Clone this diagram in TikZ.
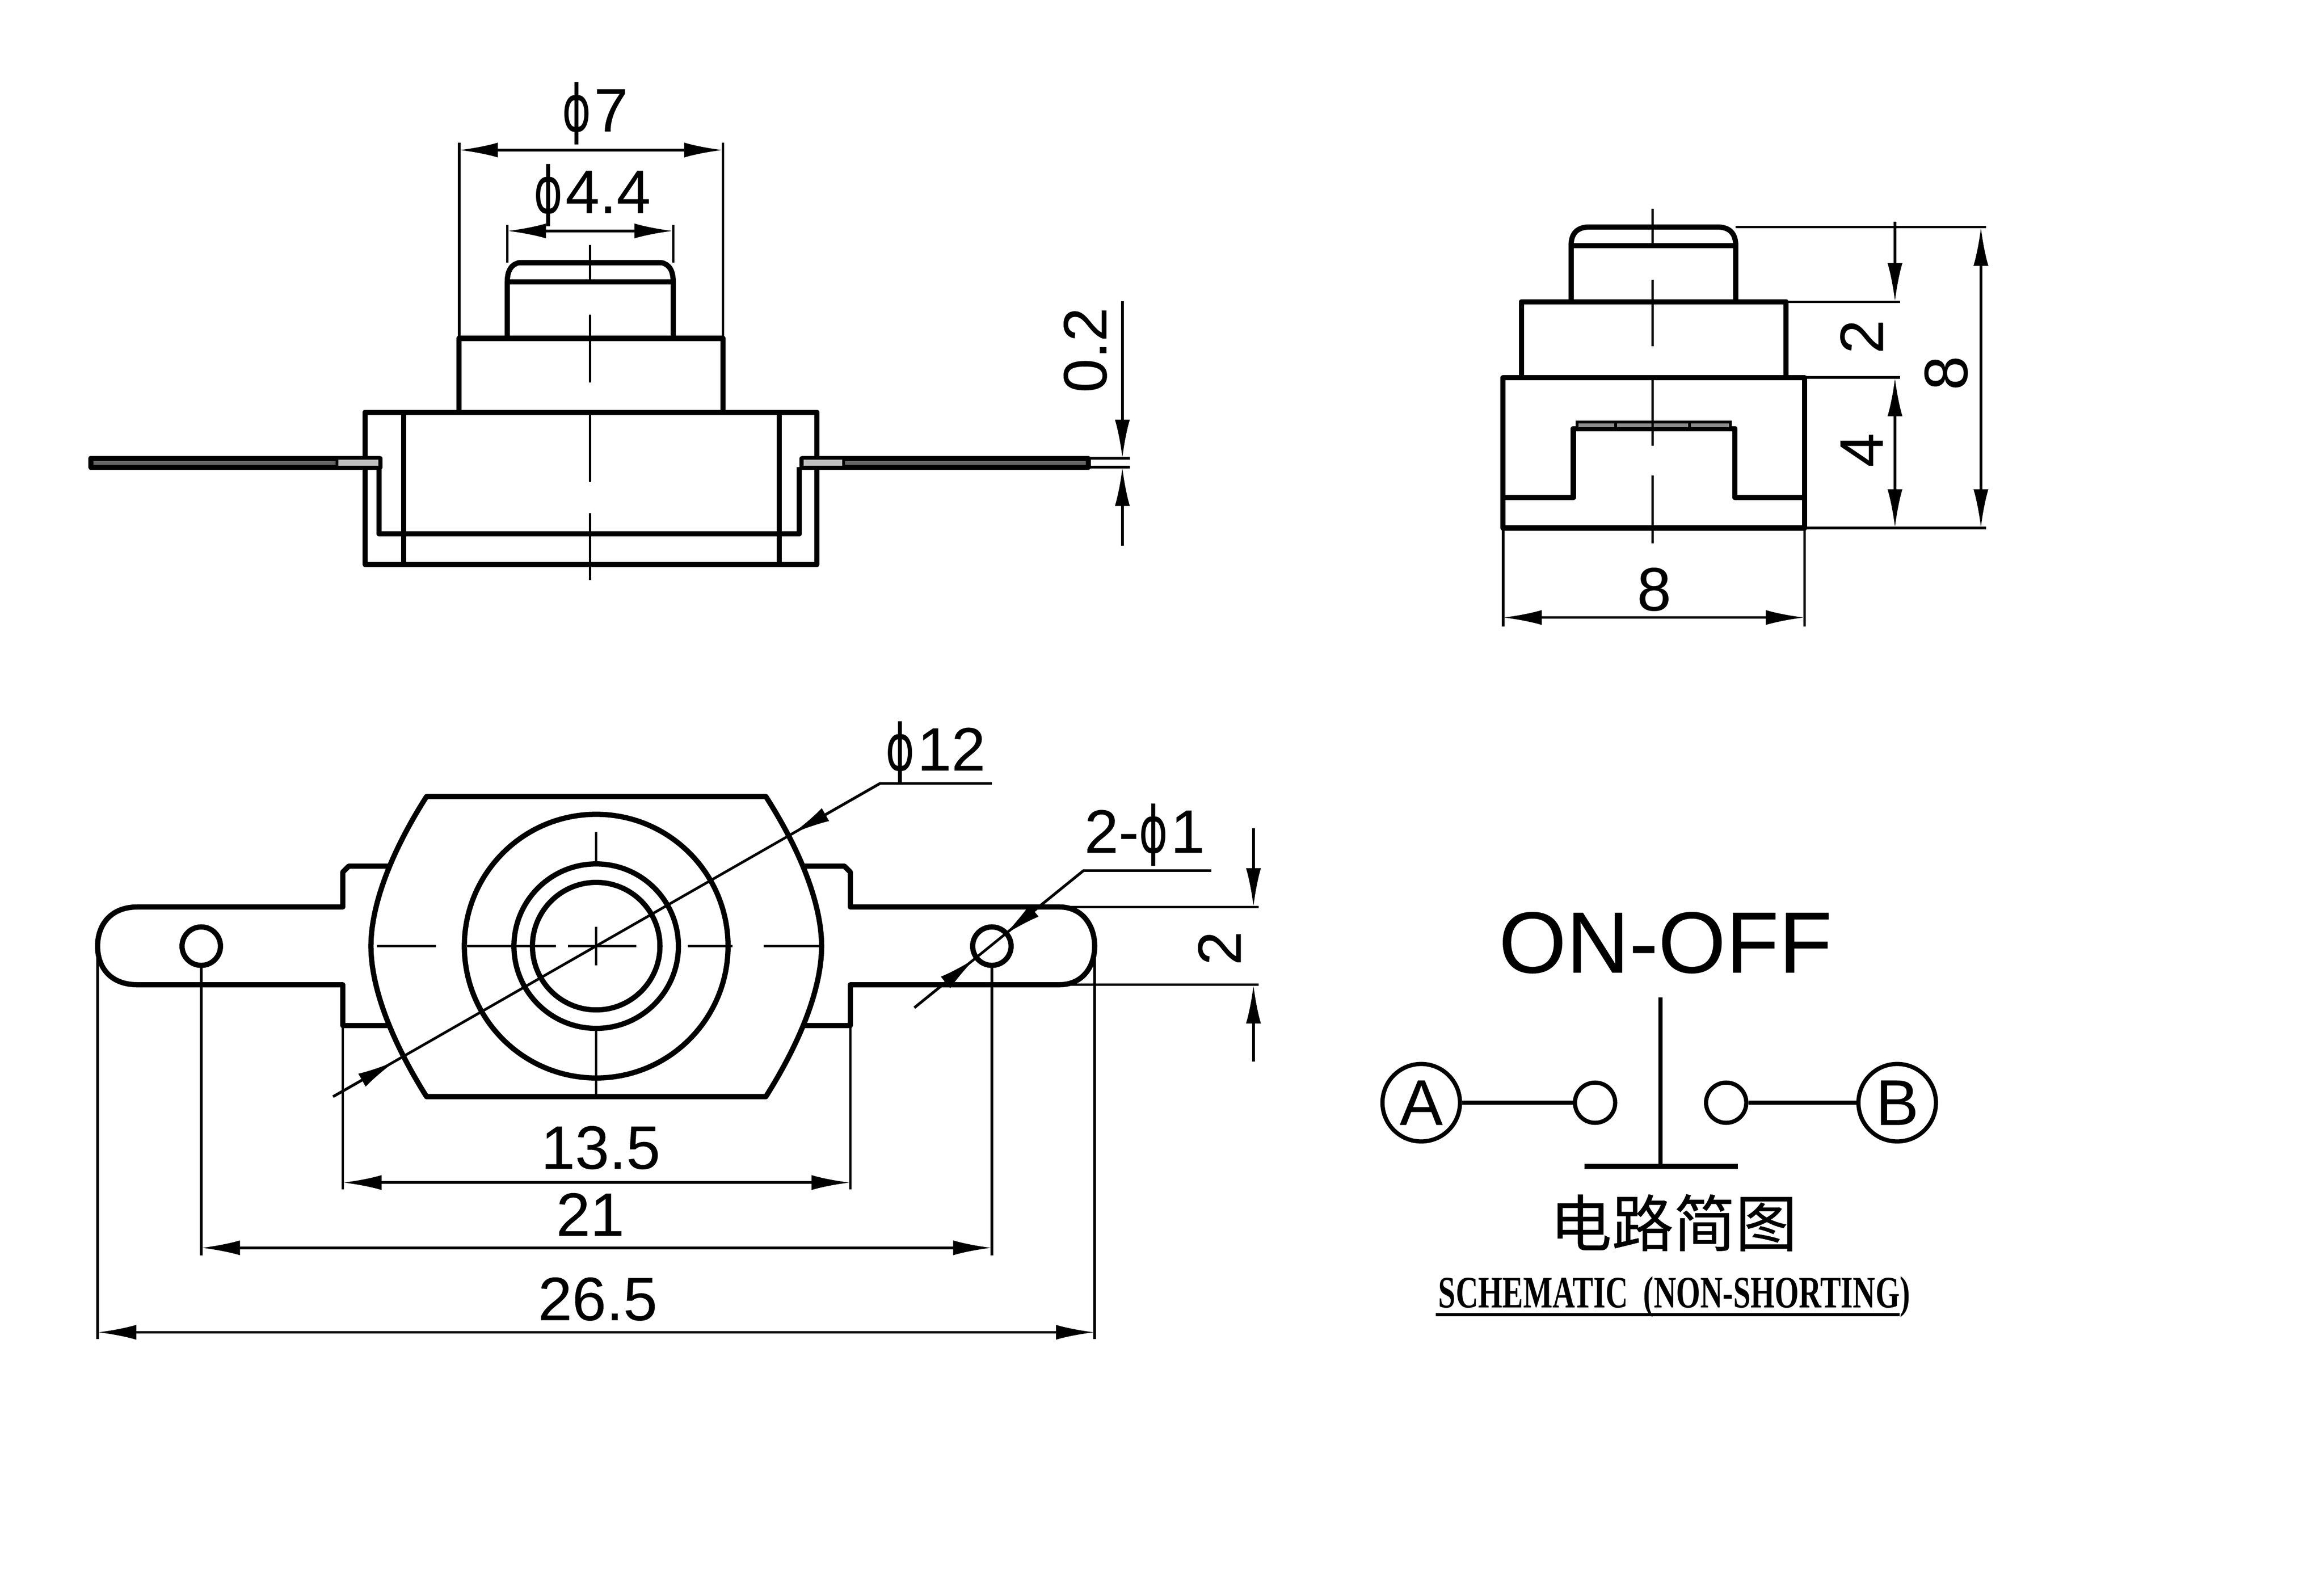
\documentclass[tikz,border=0pt]{standalone}
\usepackage{fontspec}
\usepackage{tikz}
\usetikzlibrary{arrows.meta}
\setmainfont[FakeBold = .12]{Liberation Sans}
\newfontfamily\dejavu{DejaVu Sans}
\newfontfamily\cjkfont[FakeBold = .35]{Noto Sans CJK SC}
\newfontfamily\serifcond{Liberation Serif}
\newcommand{\dia}{\scalebox{.72}[1.05]{\dejavu ϕ}\hspace{.5pt}}
\tikzset{
    outline/.style = {line width = 1pt, line join = round},
    thinline/.style = {line width = .5pt},
    centerline/.style = {line width = .45pt},
    dimline/.style = {thinline, <->},
    dimtext/.style = {inner sep = 0pt, font = \fontsize{11.7}{13}\selectfont},
    >={Latex[length = 2.6mm, width = 1mm]}
}

\begin{document}
\begin{tikzpicture}[x = .01cm, y = -.01cm]
        \useasboundingbox[fill = white] (0, 0) rectangle (1560, 1063.2);

        % front view
        \draw[outline] (340.5, 227.1) -- (340.5, 189.3) .. controls (340.5, 181.3) and (343.5, 177.3) .. (348.5, 176.3)
            -- (444, 176.3) .. controls (449, 177.3) and (451.9, 181.3) .. (451.9, 189.3) -- (451.9, 227.1);
        \draw[outline] (340.5, 189.3) -- (451.9, 189.3);
        \draw[outline] (308.2, 276.8) -- (308.2, 227.1) -- (485.3, 227.1) -- (485.3, 276.8);
        \draw[outline] (245, 276.8) rectangle (548.4, 378.8);
        \draw[outline] (270.9, 276.8) -- (270.9, 378.8);
        \draw[outline] (523, 276.8) -- (523, 378.8);
        \draw[outline] (254.4, 313.6) -- (254.4, 358.4) -- (536.5, 358.4) -- (536.5, 313.6);
        \draw[outline, fill = black!60] (60.9, 307.7) rectangle (254.9, 313.6);
        \draw[outline, fill = black!60] (538.5, 307.7) rectangle (730.5, 313.6);
        \draw[thinline, fill = black!25] (226.1, 307.7) rectangle (254.9, 313.6);
        \draw[thinline, fill = black!25] (538.5, 307.7) rectangle (566.3, 313.6);

        \draw[centerline] (396.2, 164.4) -- (396.2, 188.4);
        \draw[centerline] (396.2, 211.2) -- (396.2, 256.9);
        \draw[centerline] (396.2, 276.8) -- (396.2, 323.6);
        \draw[centerline] (396.2, 344.5) -- (396.2, 389.2);

        \draw[thinline] (308.2, 227.1) -- (308.2, 95.7);
        \draw[thinline] (485.3, 227.1) -- (485.3, 95.7);
        \draw[dimline] (308.2, 100.7) -- (485.3, 100.7);
        \draw[thinline] (340.5, 176.3) -- (340.5, 151);
        \draw[thinline] (451.9, 176.3) -- (451.9, 151);
        \draw[dimline] (340.5, 155) -- (451.9, 155);
        \node[dimtext] (dia7) at (399.5, 76.3) {\dia 7};
        \node[dimtext] (dia44) at (397.5, 131.1) {\dia 4.4};

        \draw[thinline] (730.5, 307.7) -- (758.4, 307.7);
        \draw[thinline] (730.5, 313.6) -- (758.4, 313.6);
        \draw[thinline, ->] (753.4, 202.2) -- (753.4, 307.7);
        \draw[thinline, ->] (753.4, 366.4) -- (753.4, 313.6);
        \node[dimtext, rotate = 90] (wire02) at (728.5, 235) {0.2};

        % side view
        \draw[outline] (1054.6, 202.6) -- (1054.6, 164.8) .. controls (1054.6, 157.9) and (1057.6, 152.9) .. (1065.6, 152.4)
            -- (1154.1, 152.4) .. controls (1162.1, 152.9) and (1165.1, 157.9) .. (1165.1, 164.8) -- (1165.1, 202.6);
        \draw[outline] (1054.6, 164.8) -- (1165.1, 164.8);
        \draw[outline] (1021.3, 253.4) -- (1021.3, 202.6) -- (1198.9, 202.6) -- (1198.9, 253.4);
        \draw[outline] (1008.9, 253.4) rectangle (1211.3, 354.4);
        \draw[outline] (1008.9, 334) -- (1056.1, 334) -- (1056.1, 287.7) -- (1164.6, 287.7)
            -- (1164.6, 334) -- (1211.3, 334);
        \draw[thinline, fill = black!45] (1058.6, 283.2) rectangle (1161.6, 287.7);
        \draw[thinline] (1084.5, 283.2) -- (1084.5, 287.7);
        \draw[thinline] (1134.2, 283.2) -- (1134.2, 287.7);

        \draw[centerline] (1109.3, 140) -- (1109.3, 164.8);
        \draw[centerline] (1109.3, 187.7) -- (1109.3, 232.5);
        \draw[centerline] (1109.3, 254.4) -- (1109.3, 299.1);
        \draw[centerline] (1109.3, 319) -- (1109.3, 364.8);

        \draw[thinline] (1165.1, 152.4) -- (1333.2, 152.4);
        \draw[thinline] (1198.9, 202.6) -- (1275.5, 202.6);
        \draw[thinline] (1211.3, 253.4) -- (1275.5, 253.4);
        \draw[thinline] (1211.3, 354.4) -- (1333.2, 354.4);
        \draw[thinline, ->] (1272, 148.9) -- (1272, 202.6);
        \draw[dimline] (1272, 253.4) -- (1272, 354.4);
        \draw[dimline] (1329.7, 152.4) -- (1329.7, 354.4);
        \node[dimtext, rotate = 90] (side2) at (1249.6, 226) {2};
        \node[dimtext, rotate = 90] (side4) at (1249.6, 302.1) {4};
        \node[dimtext, rotate = 90] (side8) at (1306.3, 250.4) {8};

        \draw[thinline] (1008.9, 354.4) -- (1008.9, 420.5);
        \draw[thinline] (1211.3, 354.4) -- (1211.3, 420.5);
        \draw[dimline] (1008.9, 414.5) -- (1211.3, 414.5);
        \node[dimtext] (width8) at (1110.3, 395.6) {8};

        % plan view
        \draw[outline] (264, 581.4) -- (234.1, 581.4) -- (230.1, 585.4) -- (230.1, 608.8) -- (92.3, 608.8)
            .. controls (73.9, 608.8) and (65.5, 621.2) .. (65.5, 635.1)
            .. controls (65.5, 649.1) and (73.9, 661) .. (92.3, 661)
            -- (230.1, 661) -- (230.1, 688.4) -- (264, 688.4);
        \draw[outline] (537.5, 581.4) -- (566.8, 581.4) -- (570.8, 585.4) -- (570.8, 608.8) -- (711.1, 608.8)
            .. controls (726.5, 608.8) and (734.8, 621.2) .. (734.8, 635.1)
            .. controls (734.8, 649.1) and (726.5, 661) .. (711.1, 661)
            -- (570.8, 661) -- (570.8, 688.4) -- (537.5, 688.4);
        \draw[outline, fill = white] (286.3, 534.7) -- (514.1, 534.7)
            .. controls (539.5, 574.4) and (551.5, 609.3) .. (551.5, 635.1)
            .. controls (551.5, 661) and (539.5, 695.8) .. (514.1, 736.1)
            -- (286.3, 736.1)
            .. controls (261, 695.8) and (249, 661) .. (249, 635.1)
            .. controls (249, 609.3) and (261, 574.4) .. (286.3, 534.7) -- cycle;
        \draw[outline] (400.2, 635.1) circle[radius = 88.5];
        \draw[outline] (400.2, 635.1) circle[radius = 55.2];
        \draw[outline] (400.2, 635.1) circle[radius = 42.8];
        \draw[outline] (135.1, 635.1) circle[radius = 12.9];
        \draw[outline] (665.8, 635.1) circle[radius = 12.9];

        \draw[centerline] (252.9, 635.1) -- (292.7, 635.1);
        \draw[centerline] (313.6, 635.1) -- (373.3, 635.1);
        \draw[centerline] (381.3, 635.1) -- (427, 635.1);
        \draw[centerline] (461.9, 635.1) -- (491.7, 635.1);
        \draw[centerline] (512.6, 635.1) -- (550.4, 635.1);
        \draw[centerline] (400.2, 558.5) -- (400.2, 579.4);
        \draw[centerline] (400.2, 622.2) -- (400.2, 648.1);
        \draw[centerline] (400.2, 689.9) -- (400.2, 735.6);

        \draw[thinline] (223.6, 736.1) -- (590.7, 525.9) -- (665.8, 525.9);
        \draw[thinline, ->] (590.7, 525.9) -- (531.5, 559.7);
        \draw[thinline, ->] (223.6, 736.1) -- (265.6, 712.2);
        \node[dimtext] (dia12) at (628, 505.3) {\dia 12};

        \draw[thinline] (613.8, 676.4) -- (727.3, 584.4) -- (813.1, 584.4);
        \draw[thinline, ->] (727.3, 584.4) -- (673.8, 627.8);
        \draw[thinline, ->] (613.8, 676.4) -- (654.9, 643.1);
        \node[dimtext] (holes) at (768.3, 560.5) {2-\dia 1};

        \draw[thinline] (230.1, 688.4) -- (230.1, 798.3);
        \draw[thinline] (570.8, 688.4) -- (570.8, 798.3);
        \draw[dimline] (230.1, 793.8) -- (570.8, 793.8);
        \node[dimtext] (len135) at (403.2, 770.4) {13.5};

        \draw[thinline] (135.1, 648.1) -- (135.1, 842.6);
        \draw[thinline] (665.8, 648.1) -- (665.8, 842.6);
        \draw[dimline] (135.1, 837.6) -- (665.8, 837.6);
        \node[dimtext] (len21) at (396.2, 815.2) {21};

        \draw[thinline] (65.5, 635.1) -- (65.5, 898.8);
        \draw[thinline] (734.8, 635.1) -- (734.8, 898.8);
        \draw[dimline] (65.5, 894.3) -- (734.8, 894.3);
        \node[dimtext] (len265) at (401.2, 872) {26.5};

        \draw[thinline] (711.6, 608.8) -- (844.9, 608.8);
        \draw[thinline] (711.6, 661) -- (844.9, 661);
        \draw[thinline, ->] (841.4, 556) -- (841.4, 608.8);
        \draw[thinline, ->] (841.4, 712.7) -- (841.4, 661);
        \node[dimtext, rotate = 90] (lug2) at (818.5, 636.5) {2};

        % schematic
        \node[circle, draw, line width = .8pt, minimum size = .52cm, inner sep = 0pt,
            font = \fontsize{12.3}{13}\selectfont] (termA) at (954, 740.2) {A};
        \node[circle, draw, line width = .8pt, minimum size = .52cm, inner sep = 0pt,
            font = \fontsize{12.3}{13}\selectfont] (termB) at (1273.5, 740.2) {B};
        \node[circle, draw, line width = .8pt, minimum size = .27cm, inner sep = 0pt] (contA) at (1070.7, 740.2) {};
        \node[circle, draw, line width = .8pt, minimum size = .27cm, inner sep = 0pt] (contB) at (1158.7, 740.2) {};
        \draw[line width = .8pt] (termA) -- (contA);
        \draw[line width = .8pt] (contB) -- (termB);
        \coordinate (stemTop) at (1114.6, 669.6);
        \coordinate (stemFoot) at (1114.6, 783);
        \coordinate (barLeft) at (1063.7, 783);
        \coordinate (barRight) at (1166.6, 783);
        \draw[line width = .8pt] (stemTop) -- (stemFoot);
        \draw[line width = 1pt] (barLeft) -- (barRight);

        \node[inner sep = 0pt, font = \fontsize{16.6}{18}\selectfont] (onoff) at (1117.9, 632.8) {ON-OFF};
        \node[inner sep = 0pt, font = \fontsize{11.8}{13}\cjkfont] (cntitle) at (1123.4, 820.8) {电路简图};
        \node[inner sep = 0pt, xscale = .69, font = \fontsize{8.6}{10}\serifcond\bfseries] (entitle) at (1123.9, 870.5)
            {SCHEMATIC\ \ (NON-SHORTING)};
        \coordinate (ruleLeft) at (963.7, 882.5);
        \coordinate (ruleRight) at (1275.1, 882.5);
        \draw[line width = .6pt] (ruleLeft) -- (ruleRight);
    \end{tikzpicture}
\end{document}
